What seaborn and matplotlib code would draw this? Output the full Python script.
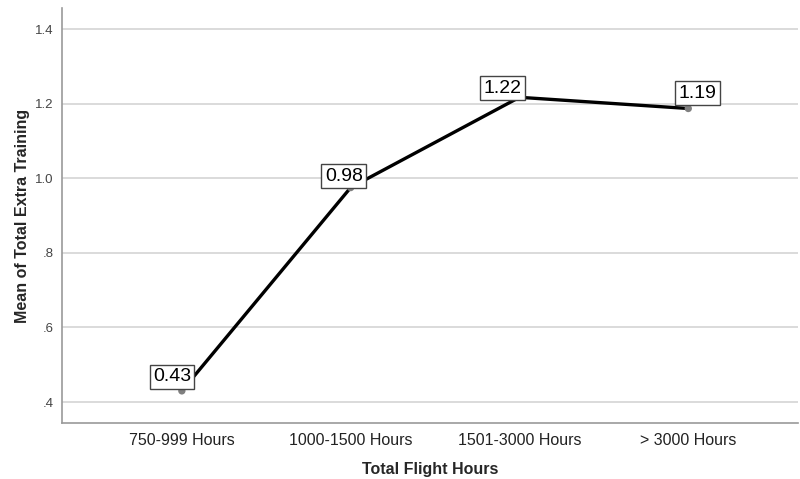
import matplotlib
matplotlib.use("Agg")
import matplotlib.pyplot as plt
import numpy as np
import pandas as pd
import seaborn as sns
from matplotlib.ticker import FuncFormatter

groups = ["750-999 Hours", "1000-1500 Hours", "1501-3000 Hours", "> 3000 Hours"]
means = [0.43, 0.975, 1.217, 1.187]
labels = ["0.43", "0.98", "1.22", "1.19"]

sns.set_style("white")
plt.rcParams["font.family"] = ["Liberation Sans", "DejaVu Sans"]

df = pd.DataFrame({"Total Flight Hours": groups, "Mean": means})

fig = plt.figure(figsize=(8, 4.79), dpi=100)
ax = fig.add_axes([0.0775, 0.117, 0.92, 0.866])

sns.lineplot(data=df, x="Total Flight Hours", y="Mean", sort=False,
             color="black", linewidth=2.4, ax=ax, zorder=3)
sns.scatterplot(data=df, x="Total Flight Hours", y="Mean",
                color="#808080", s=28, edgecolor="none", ax=ax, zorder=4)

# label offsets (points) picked to sit like the original boxes
offsets = [(-7, 4), (-5, 2), (-12, 0.5), (6.5, 5)]
for i, (v, lab) in enumerate(zip(means, labels)):
    ax.annotate(lab, (i, v), xytext=offsets[i], textcoords="offset points",
                ha="center", va="bottom", fontsize=14, color="black", zorder=5,
                bbox=dict(boxstyle="square,pad=0.17", fc="white",
                          ec="#444444", lw=1.0))

ax.set_ylim(0.344, 1.456)
ax.set_xlim(-0.71, 3.65)
ax.set_yticks([0.4, 0.6, 0.8, 1.0, 1.2, 1.4])
ax.yaxis.set_major_formatter(FuncFormatter(
    lambda v, p: f"{v:.1f}".lstrip("0") if v < 1 else f"{v:.1f}"))
ax.yaxis.grid(True, color="#d4d4d4", linewidth=1.2)
ax.set_axisbelow(True)

for s in ["top", "right"]:
    ax.spines[s].set_visible(False)
for s in ["left", "bottom"]:
    ax.spines[s].set_color("#9a9a9a")
    ax.spines[s].set_linewidth(1.2)

ax.tick_params(axis="y", length=0, labelsize=9.5, labelcolor="#444444", pad=6)
ax.tick_params(axis="x", length=0, labelsize=11.5, labelcolor="#222222", pad=7)
ax.set_xlabel("Total Flight Hours", fontsize=11.5, fontweight="bold", labelpad=10)
ax.set_ylabel("Mean of Total Extra Training", fontsize=11.5, fontweight="bold",
              labelpad=4)

fig.savefig("out.png", dpi=100)
plt.close(fig)
